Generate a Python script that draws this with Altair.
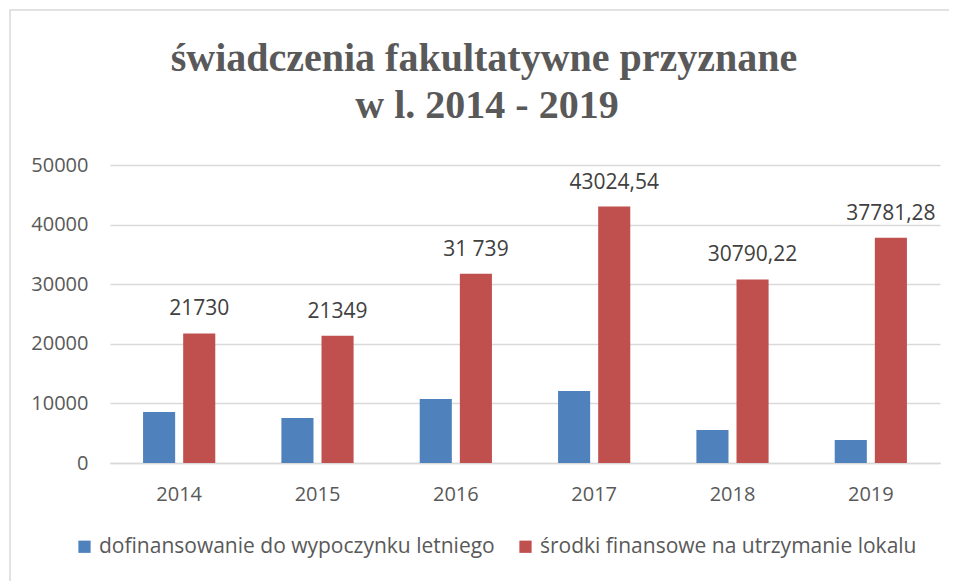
import altair as alt
import pandas as pd

years = ["2014", "2015", "2016", "2017", "2018", "2019"]
series_names = ["dofinansowanie do wypoczynku letniego", "środki finansowe na utrzymanie lokalu"]
blue_values = [8540, 7540, 10720, 12060, 5530, 3850]
red_values = [21730, 21349, 31739, 43024.54, 30790.22, 37781.28]
red_labels = ["21730", "21349", "31 739", "43024,54", "30790,22", "37781,28"]
title_lines = ["świadczenia fakultatywne przyznane", "w l. 2014 - 2019"]
colors = ["#4F81BD", "#C0504D"]

rows = []
for i, y in enumerate(years):
    rows.append({"year": y, "series": series_names[0], "value": blue_values[i], "label": ""})
    rows.append({"year": y, "series": series_names[1], "value": red_values[i], "label": red_labels[i]})
df = pd.DataFrame(rows)

AXIS_FONT = "Open Sans"
GRAY = "#595959"

x_enc = alt.X("year:N", title=None, sort=years,
              scale=alt.Scale(paddingInner=0.42, paddingOuter=0.21),
              axis=alt.Axis(labelAngle=0, ticks=False, domain=True, domainColor="#d9d9d9",
                            domainWidth=1.5, labelPadding=21, labelFontSize=20,
                            labelFont=AXIS_FONT, labelColor=GRAY, grid=False))
y_enc = alt.Y("value:Q", title=None,
              scale=alt.Scale(domain=[0, 50000], nice=False),
              axis=alt.Axis(values=[0, 10000, 20000, 30000, 40000, 50000], format="d",
                            ticks=False, domain=False, grid=True, gridColor="#d9d9d9",
                            gridWidth=1.5, labelPadding=22, labelFontSize=20,
                            labelFont=AXIS_FONT, labelColor=GRAY))

bars = alt.Chart(df).mark_bar().encode(
    x=x_enc,
    y=y_enc,
    xOffset=alt.XOffset("series:N", sort=series_names,
                        scale=alt.Scale(paddingInner=0.2, paddingOuter=0.1)),
    color=alt.Color("series:N", sort=series_names,
                    scale=alt.Scale(domain=series_names, range=colors),
                    legend=alt.Legend(title=None, orient="none", direction="horizontal",
                                      legendX=-36, legendY=371, padding=0,
                                      symbolType="square", symbolSize=150,
                                      symbolStrokeWidth=0, labelFontSize=21,
                                      labelFont=AXIS_FONT, labelColor=GRAY,
                                      labelOffset=4, columnPadding=20,
                                      labelLimit=500)),
)

labels = alt.Chart(df).transform_filter(alt.datum.label != "").mark_text(
    baseline="bottom", dy=-14, fontSize=21, font=AXIS_FONT, color="#404040"
).encode(
    x=alt.X("year:N", sort=years),
    xOffset=alt.XOffset("series:N", sort=series_names),
    y="value:Q",
    text="label:N",
)

title_df = pd.DataFrame({"line": title_lines, "idx": [0, 1]})
title1 = alt.Chart(title_df).transform_filter(alt.datum.idx == 0).mark_text(
    font="Liberation Serif", fontSize=40, fontWeight="bold", color=GRAY,
    align="center", baseline="alphabetic", clip=False
).encode(x=alt.value(374), y=alt.value(-94), text="line:N")
title2 = alt.Chart(title_df).transform_filter(alt.datum.idx == 1).mark_text(
    font="Liberation Serif", fontSize=40, fontWeight="bold", color=GRAY,
    align="center", baseline="alphabetic", clip=False
).encode(x=alt.value(377), y=alt.value(-47), text="line:N")

frame = alt.Chart(pd.DataFrame({"k": [0]})).mark_rect(
    fill=None, stroke="#d9d9d9", strokeWidth=1.5, clip=False
).encode(
    x=alt.value(-100), x2=alt.value(842), y=alt.value(-155), y2=alt.value(460)
)

chart = alt.layer(frame, bars, labels, title1, title2).properties(
    width=830,
    height=298,
    padding={"left": 102, "top": 157, "right": 9, "bottom": 118},
    autosize=alt.AutoSizeParams(type="none"),
).configure_view(stroke=None)

chart.save("out.html", embed_options={"renderer": "svg", "actions": False})
